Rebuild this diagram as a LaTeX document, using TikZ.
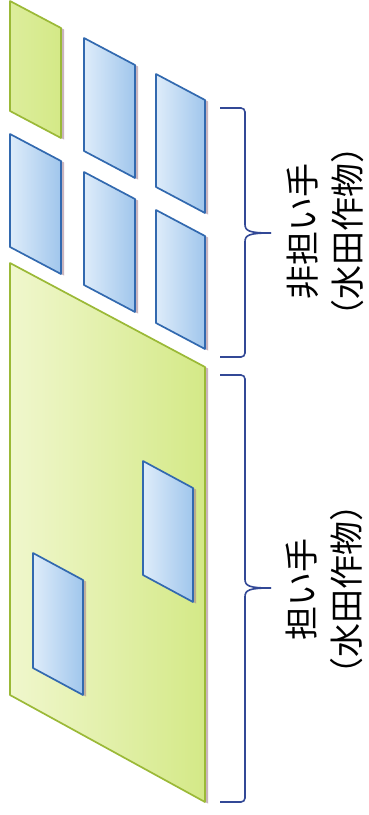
\documentclass[tikz,border=0pt]{standalone}
\usepackage{fontspec}
\newfontfamily\jpfont[RawFeature=+halt]{Noto Sans CJK JP}
\usetikzlibrary{shadows}
\definecolor{blueL}{RGB}{222,236,250}
\definecolor{blueR}{RGB}{160,198,236}
\definecolor{blueB}{RGB}{50,105,175}
\definecolor{greenL}{RGB}{240,247,205}
\definecolor{greenR}{RGB}{212,233,135}
\definecolor{greenB}{RGB}{155,185,55}
\definecolor{braceC}{RGB}{50,72,150}
\definecolor{shadowC}{RGB}{165,130,145}
\tikzset{
  shade/.style={drop shadow={shadow xshift=3pt,shadow yshift=-1.5pt,fill=shadowC,opacity=0.6}},
  bluepar/.style={shade,draw=blueB,line width=1.7pt,left color=blueL,right color=blueR,line join=round},
  greenpar/.style={shade,draw=greenB,line width=1.7pt,left color=greenL,right color=greenR,line join=round},
  bracepath/.style={draw=braceC,line width=1.6pt,rounded corners=4pt},
  tipline/.style={draw=braceC,line width=1.6pt},
  label/.style={rotate=90,align=center,font=\jpfont\fontsize{34}{45}\selectfont,inner sep=0pt}
}
\begin{document}
\begin{tikzpicture}[x=1pt,y=-1pt]
\useasboundingbox[fill=white] (0,0) rectangle (368,815);
% small grid
\path[greenpar,left color=greenR!70!greenL] (10,1) -- (61,28) -- (61,138) -- (10,111) -- cycle;
\path[bluepar] (84,38) -- (135,65) -- (135,178) -- (84,151) -- cycle;
\path[bluepar] (156,74) -- (205,100) -- (205,213) -- (156,187) -- cycle;
\path[bluepar] (10,134) -- (61,161) -- (61,274) -- (10,247) -- cycle;
\path[bluepar] (84,172) -- (135,199) -- (135,312) -- (84,285) -- cycle;
\path[bluepar] (156,210) -- (205,236) -- (205,349) -- (156,323) -- cycle;
% large field
\path[greenpar] (10,263) -- (205,367) -- (205,802) -- (10,695) -- cycle;
\path[bluepar] (143,461) -- (193,488) -- (193,602) -- (143,575) -- cycle;
\path[bluepar] (33,553) -- (83,580) -- (83,695) -- (33,668) -- cycle;
% braces
\coordinate (b1t) at (220,108);
\coordinate (b1b) at (220,357);
\coordinate (b1m) at (271,233);
\draw[bracepath] (b1t) -- (245,108) -- (245,225);
\draw[tipline] (245,224) .. controls (245,231) and (249,233) .. (b1m);
\draw[tipline] (b1m) .. controls (249,233) and (245,235) .. (245,242);
\draw[bracepath] (245,241) -- (245,357) -- (b1b);
\coordinate (b2t) at (220,375);
\coordinate (b2b) at (220,802);
\coordinate (b2m) at (271,588);
\draw[bracepath] (b2t) -- (245,375) -- (245,580);
\draw[tipline] (245,579) .. controls (245,586) and (249,588) .. (b2m);
\draw[tipline] (b2m) .. controls (249,588) and (245,590) .. (245,597);
\draw[bracepath] (245,596) -- (245,802) -- (b2b);
% labels
\node[label] (lab1) at (325,231) {非担い手\\（水田作物）};
\node[label] (lab2) at (324,589) {担い手\\（水田作物）};
\end{tikzpicture}
\end{document}
